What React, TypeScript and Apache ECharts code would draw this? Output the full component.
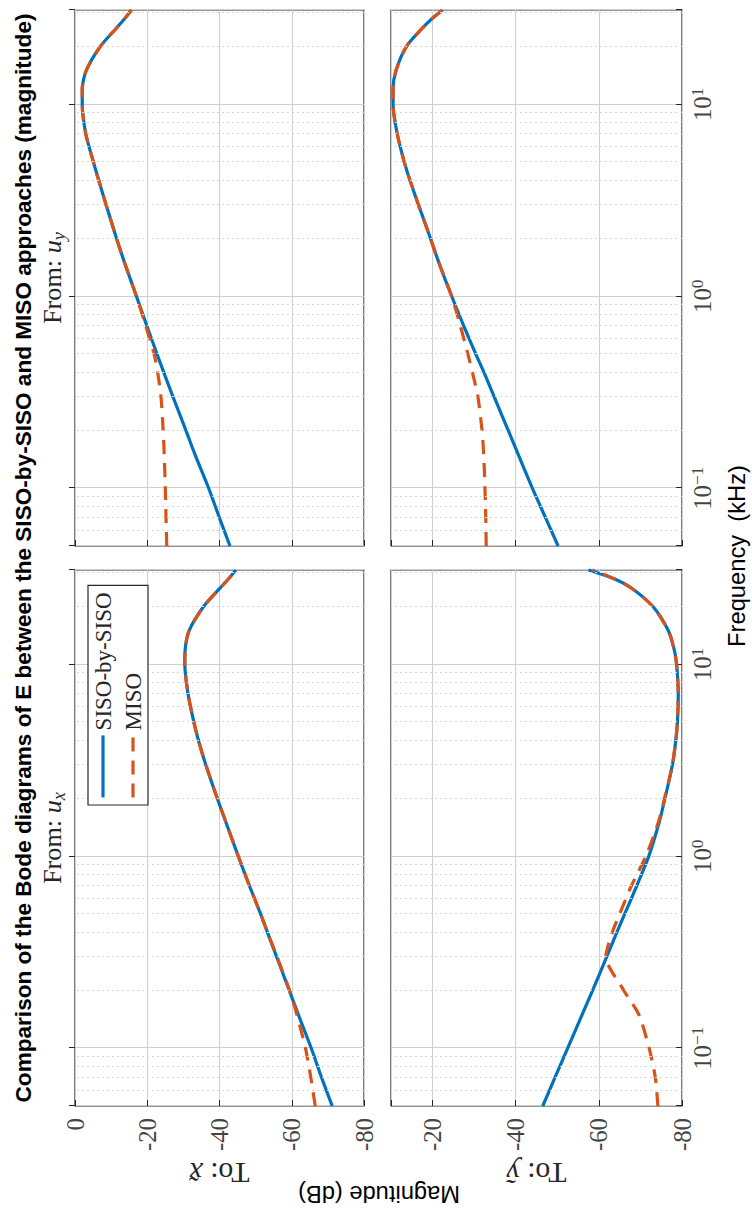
import React, { useEffect, useRef } from "react";
import * as echarts from "echarts";

// Frequency samples (kHz)
const freq = [0.05, 0.07, 0.1, 0.15, 0.2, 0.3, 0.4, 0.5, 0.7, 1, 1.5, 2, 3, 4, 5, 7, 10, 12, 15, 20, 25, 28, 31];

// To: x , From: u_x
const sisoXfromUx = [-71.2, -68.3, -65.4, -61.8, -59.3, -55.8, -53.3, -51.4, -48.3, -45.2, -41.8, -39.4, -36.2, -34.2, -32.9, -31.3, -30.4, -30.5, -31.6, -35.6, -40.2, -42.6, -44.5];
const misoXfromUx = [-66.5, -65.3, -63.8, -61.4, -59.4, -55.9, -53.3, -51.4, -48.3, -45.2, -41.8, -39.4, -36.2, -34.2, -32.9, -31.3, -30.4, -30.5, -31.6, -35.6, -40.2, -42.6, -44.5];
// To: x , From: u_y
const sisoXfromUy = [-42.9, -40.0, -37.0, -33.2, -30.7, -27.1, -24.6, -22.7, -19.9, -17.0, -13.7, -11.5, -8.6, -6.6, -5.1, -3.0, -2.0, -2.0, -3.1, -7.0, -11.5, -13.8, -15.6];
const misoXfromUy = [-25.4, -25.2, -25.0, -24.7, -24.4, -23.8, -22.9, -21.9, -19.6, -17.0, -13.7, -11.5, -8.6, -6.6, -5.1, -3.0, -2.0, -2.0, -3.1, -7.0, -11.5, -13.8, -15.6];
// To: y , From: u_x
const sisoYfromUx = [-46.5, -49.4, -52.5, -56.0, -58.5, -61.9, -64.3, -66.2, -69.1, -72.0, -74.5, -75.9, -77.7, -78.5, -78.9, -79.1, -78.7, -78.1, -76.7, -73.0, -67.8, -63.5, -57.5];
const misoYfromUx = [-74.2, -73.6, -72.1, -69.6, -66.0, -61.7, -63.2, -65.0, -67.8, -71.3, -74.3, -75.8, -77.7, -78.5, -78.9, -79.1, -78.7, -78.1, -76.7, -73.0, -67.8, -63.5, -58.5];
// To: y , From: u_y
const sisoYfromUy = [-50.2, -47.2, -44.0, -40.6, -38.2, -34.8, -32.4, -30.4, -27.5, -24.6, -21.5, -19.5, -16.6, -14.6, -13.2, -11.5, -10.5, -10.5, -11.2, -13.7, -17.6, -19.9, -22.4];
const misoYfromUy = [-32.9, -32.8, -32.6, -32.3, -31.9, -30.9, -29.6, -28.5, -26.7, -24.6, -21.5, -19.5, -16.6, -14.6, -13.2, -11.5, -10.5, -10.5, -11.2, -13.7, -17.6, -19.9, -22.4];

// Minor (dotted) frequency grid lines
const minorFreqs = [0.06, 0.07, 0.08, 0.09, 0.2, 0.3, 0.4, 0.5, 0.6, 0.7, 0.8, 0.9, 2, 3, 4, 5, 6, 7, 8, 9, 20, 30];

const seriesNames = ["SISO-by-SISO", "MISO"];
const rowLabels = ["x\u0303", "\u1EF9"];
const colLabels = ["x", "y"];
const titleText = "Comparison of the Bode diagrams of E between the SISO-by-SISO and MISO approaches (magnitude)";
const freqName = "Frequency  (kHz)";
const magName = "Magnitude (dB)";

const BLUE = "#0072BD";
const RED = "#D95319";
const SERIF = '"Liberation Serif", "Times New Roman", serif';
const SANS = '"Liberation Sans", Arial, sans-serif';
const AX = "#262626";

const panels = [
  { siso: sisoXfromUx, miso: misoXfromUx },
  { siso: sisoXfromUy, miso: misoXfromUy },
  { siso: sisoYfromUx, miso: misoYfromUx },
  { siso: sisoYfromUy, miso: misoYfromUy },
];

const gridBoxes = [
  { left: 103, top: 75, width: 536, height: 289 },
  { left: 663, top: 75, width: 536, height: 289 },
  { left: 103, top: 391, width: 536, height: 291 },
  { left: 663, top: 391, width: 536, height: 291 },
];

let measureCtx: CanvasRenderingContext2D | null = null;
function textWidth(text: string, family: string, weight = "normal", style = "normal") {
  if (!measureCtx) measureCtx = document.createElement("canvas").getContext("2d");
  if (!measureCtx) return text.length * 55;
  measureCtx.font = `${style} ${weight} 100px ${family}`;
  return measureCtx.measureText(text).width;
}
function fit(target: number, w100: number, lo = 14, hi = 30) {
  const s = (100 * target) / w100;
  return Math.max(lo, Math.min(hi, s));
}

function freqLabel(v: number) {
  const e = Math.log10(v);
  const r = Math.round(e);
  if (Math.abs(e - r) > 1e-6) return "";
  const exp = r < 0 ? "\u2212" + -r : String(r);
  return "{b|10}{s|" + exp + "}";
}

function buildOption() {
  const titleSize = fit(1089, textWidth(titleText, SANS, "bold"));
  const freqNameSize = fit(182, textWidth(freqName, SANS));
  const magNameSize = fit(162, textWidth(magName, SANS));
  const legendSize = fit(138, textWidth(seriesNames[0], SERIF));
  const tickSize = fit(33, textWidth("-20", SERIF));
  const fromSize = fit(
    92,
    textWidth("From: ", SERIF) + textWidth("u", SERIF, "normal", "italic") + 0.7 * textWidth("y", SERIF, "normal", "italic")
  );
  const toSize = fit(60, textWidth("To: ", SERIF) + textWidth("x", SERIF, "normal", "italic"));

  const grid = gridBoxes.map((g) => ({
    ...g,
    show: true,
    borderColor: AX,
    borderWidth: 1.2,
    backgroundColor: "#ffffff",
  }));

  const xAxis = gridBoxes.map((_, i) => ({
    type: "log",
    logBase: 10,
    gridIndex: i,
    min: 0.05,
    max: 31,
    axisLine: { show: false },
    axisTick: { show: true, inside: true, length: 6, lineStyle: { color: AX, width: 1 } },
    splitLine: { show: true, lineStyle: { color: "#cfcfcf", width: 1 } },
    axisLabel: {
      show: i >= 2,
      margin: 7,
      formatter: freqLabel,
      rich: {
        b: { fontFamily: SERIF, fontSize: tickSize, color: "#444", lineHeight: 27, verticalAlign: "middle" },
        s: { fontFamily: SERIF, fontSize: tickSize * 0.7, color: "#444", lineHeight: 14, verticalAlign: "top" },
      },
    },
  }));

  const yAxis = gridBoxes.map((_, i) => ({
    type: "value",
    gridIndex: i,
    min: -80,
    max: i < 2 ? 0 : -10,
    interval: 20,
    axisLine: { show: false },
    axisTick: { show: true, inside: true, length: 6, lineStyle: { color: AX, width: 1 } },
    splitLine: { show: true, lineStyle: { color: "#cfcfcf", width: 1 } },
    axisLabel: {
      show: i % 2 === 0,
      margin: 12,
      fontFamily: SERIF,
      fontSize: tickSize,
      color: "#444",
      formatter: (v: number) => (v % 20 === 0 ? String(v) : ""),
    },
  }));

  const series: any[] = [];
  panels.forEach((p, i) => {
    series.push({
      type: "line",
      name: "minor-grid-" + i,
      xAxisIndex: i,
      yAxisIndex: i,
      data: [],
      silent: true,
      z: 1,
      markLine: {
        silent: true,
        symbol: ["none", "none"],
        label: { show: false },
        lineStyle: { color: "#d6d6d6", type: [2, 3], width: 1 },
        data: minorFreqs.map((f) => ({ xAxis: f })),
      },
    });
    series.push({
      type: "line",
      name: seriesNames[0],
      xAxisIndex: i,
      yAxisIndex: i,
      data: freq.map((f, k) => [f, p.siso[k]]),
      symbol: "none",
      showSymbol: false,
      smooth: 0.25,
      lineStyle: { color: BLUE, width: 3.2 },
      itemStyle: { color: BLUE },
      z: 3,
    });
    series.push({
      type: "line",
      name: seriesNames[1],
      xAxisIndex: i,
      yAxisIndex: i,
      data: freq.map((f, k) => [f, p.miso[k]]),
      symbol: "none",
      showSymbol: false,
      smooth: 0.25,
      lineStyle: { color: RED, width: 3.2, type: [14, 9] },
      itemStyle: { color: RED },
      z: 4,
    });
  });

  const graphic: any[] = [
    {
      type: "text",
      x: 651,
      y: 23.5,
      style: {
        text: titleText,
        fontFamily: SANS,
        fontWeight: "bold",
        fontSize: titleSize,
        fill: "#000",
        align: "center",
        verticalAlign: "middle",
      },
    },
    {
      type: "text",
      x: 653,
      y: 737,
      style: {
        text: freqName,
        fontFamily: SANS,
        fontSize: freqNameSize,
        fill: "#000",
        align: "center",
        verticalAlign: "middle",
      },
    },
    {
      type: "text",
      x: 15.5,
      y: 379,
      rotation: Math.PI / 2,
      style: {
        text: magName,
        fontFamily: SANS,
        fontSize: magNameSize,
        fill: "#000",
        align: "center",
        verticalAlign: "middle",
      },
    },
  ];

  const colCenters = [
    gridBoxes[0].left + gridBoxes[0].width / 2,
    gridBoxes[1].left + gridBoxes[1].width / 2,
  ];
  colCenters.forEach((cx, j) => {
    graphic.push({
      type: "text",
      x: cx,
      y: 52.5,
      style: {
        text: "{a|From: }{i|u}{s|" + colLabels[j] + "}",
        align: "center",
        verticalAlign: "middle",
        rich: {
          a: { fontFamily: SERIF, fontSize: fromSize, fill: AX, lineHeight: 31, verticalAlign: "middle" },
          i: { fontFamily: SERIF, fontStyle: "italic", fontSize: fromSize, fill: AX, lineHeight: 31, verticalAlign: "middle" },
          s: { fontFamily: SERIF, fontStyle: "italic", fontSize: fromSize * 0.7, fill: AX, lineHeight: 14, verticalAlign: "bottom" },
        },
      },
    });
  });

  const rowCenters = [
    gridBoxes[0].top + gridBoxes[0].height / 2,
    gridBoxes[2].top + gridBoxes[2].height / 2,
  ];
  rowCenters.forEach((cy, j) => {
    graphic.push({
      type: "text",
      x: 36,
      y: cy,
      rotation: Math.PI / 2,
      style: {
        text: "{a|To: }{i|" + rowLabels[j] + "}",
        align: "center",
        verticalAlign: "middle",
        rich: {
          a: { fontFamily: SERIF, fontSize: toSize, fill: AX },
          i: { fontFamily: SERIF, fontStyle: "italic", fontSize: toSize, fill: AX },
        },
      },
    });
  });

  return {
    animation: false,
    backgroundColor: "#ffffff",
    grid,
    xAxis,
    yAxis,
    series,
    graphic,
    legend: {
      data: seriesNames,
      left: 404,
      top: 88,
      orient: "vertical",
      selectedMode: false,
      itemWidth: 62,
      itemHeight: 24,
      itemGap: 6,
      padding: [3, 7, 3, 6],
      borderColor: AX,
      borderWidth: 1.2,
      backgroundColor: "#ffffff",
      itemStyle: { opacity: 0 },
      lineStyle: { width: 3.2 },
      textStyle: { fontFamily: SERIF, fontSize: legendSize, color: AX, lineHeight: 24 },
      z: 10,
    },
  };
}

export default function App() {
  const ref = useRef<HTMLDivElement>(null);
  useEffect(() => {
    if (!ref.current) return;
    const chart = echarts.init(ref.current, undefined, { renderer: "svg" });
    chart.setOption(buildOption() as any);
    return () => chart.dispose();
  }, []);
  return (
    <div
      style={{
        position: "absolute",
        left: 0,
        top: 0,
        width: 752,
        height: 1209,
        overflow: "hidden",
        background: "#ffffff",
      }}
    >
      <div
        ref={ref}
        style={{
          position: "absolute",
          left: 0,
          top: 0,
          width: 1209,
          height: 752,
          transformOrigin: "0 0",
          transform: "translate(0px, 1209px) rotate(-90deg)",
        }}
      />
    </div>
  );
}
